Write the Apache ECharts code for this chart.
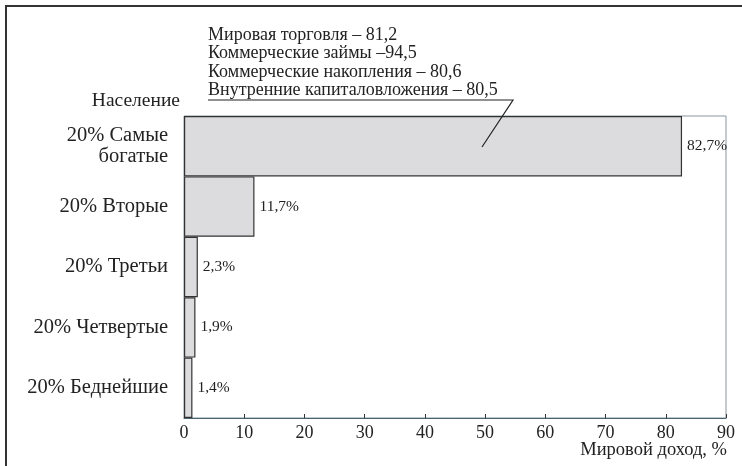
<!DOCTYPE html>
<html>
<head>
<meta charset="utf-8">
<script src="https://cdn.jsdelivr.net/npm/echarts@6/dist/echarts.min.js"></script>
<style>
  html, body { margin: 0; padding: 0; background: #fff; }
  #chart { width: 742px; height: 466px; }
</style>
</head>
<body>
<div id="chart"></div>
<script>
// данные
var categories = ['20% Самые\nбогатые', '20% Вторые', '20% Третьи', '20% Четвертые', '20% Беднейшие'];
var incomeShare = [82.7, 11.7, 2.3, 1.9, 1.4];
var noteLines = [
  'Мировая торговля – 81,2',
  'Коммерческие займы –94,5',
  'Коммерческие накопления – 80,6',
  'Внутренние капиталовложения – 80,5'
];

var FONT = 'Liberation Serif';
var chart = echarts.init(document.getElementById('chart'));

chart.setOption({
  animation: false,
  backgroundColor: '#fff',
  grid: {
    left: 184, right: 16, top: 116, bottom: 48,
    show: true,
    borderColor: '#8797a1',
    borderWidth: 1,
    backgroundColor: 'transparent'
  },
  xAxis: {
    type: 'value',
    min: 0, max: 90, interval: 10,
    axisLine: { show: true, lineStyle: { color: '#4b6473', width: 1 } },
    axisTick: { show: true, inside: true, length: 4, lineStyle: { color: '#333' } },
    axisLabel: { color: '#222', fontFamily: FONT, fontSize: 18, margin: 6 },
    splitLine: { show: false }
  },
  yAxis: {
    type: 'category',
    inverse: true,
    data: categories,
    axisLine: { show: false },
    axisTick: { show: false },
    axisLabel: {
      color: '#222', fontFamily: FONT, fontSize: 20.5, lineHeight: 21,
      margin: 16, align: 'right'
    }
  },
  series: [{
    type: 'bar',
    data: incomeShare,
    barCategoryGap: 0,
    itemStyle: { color: '#dcdcde', borderColor: '#333', borderWidth: 1.2 },
    label: {
      show: true,
      position: 'right',
      distance: 5,
      color: '#222',
      fontFamily: FONT,
      fontSize: 15.5,
      formatter: function (p) { return p.value.toFixed(1).replace('.', ',') + '%'; }
    }
  }],
  graphic: [
    // рамка
    { type: 'rect', shape: { x: 6, y: 6, width: 800, height: 500 },
      style: { fill: 'none', stroke: '#333', lineWidth: 2 }, silent: true },
    { type: 'text', x: 180, y: 101,
      style: { text: 'Население', fill: '#222', font: '19.5px "' + FONT + '"',
        textAlign: 'right', textVerticalAlign: 'middle' } },
    { type: 'text', x: 208, y: 26,
      style: { text: noteLines.join('\n'), fill: '#222', font: '18px "' + FONT + '"',
        lineHeight: 18.5, textAlign: 'left', textVerticalAlign: 'top' } },
    { type: 'polyline', z: 100, shape: { points: [[208, 100], [513, 100], [482, 147]] },
      style: { fill: 'none', stroke: '#222', lineWidth: 1.2 } },
    { type: 'text', x: 727, y: 450,
      style: { text: 'Мировой доход, %', fill: '#222', font: '18.5px "' + FONT + '"',
        textAlign: 'right', textVerticalAlign: 'middle' } }
  ]
});
</script>
</body>
</html>
